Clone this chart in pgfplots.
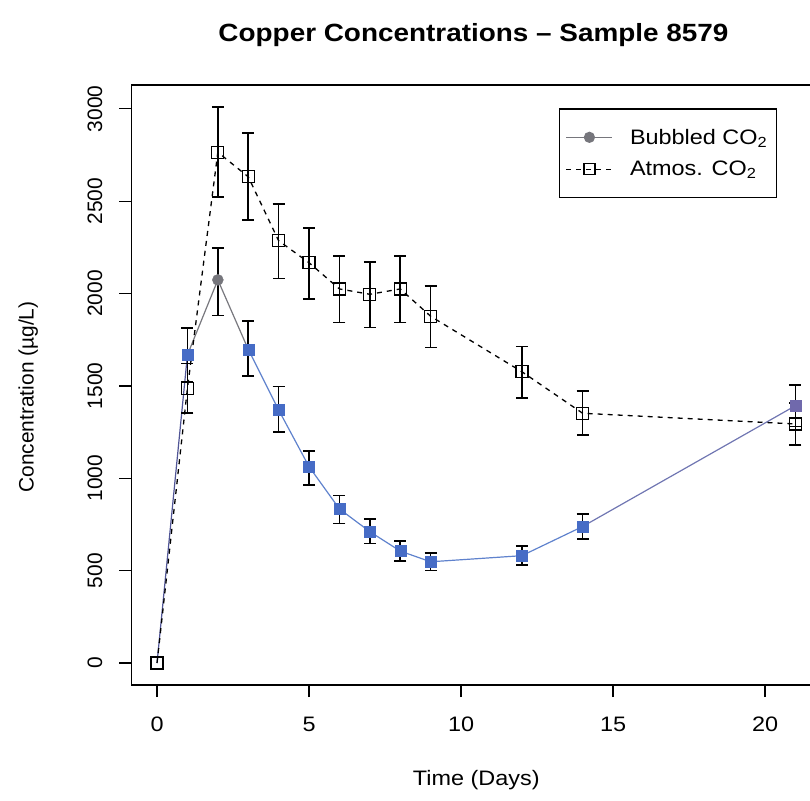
\documentclass[border=0pt]{standalone}
\usepackage{fontspec}
\setmainfont{Liberation Sans}[FakeStretch=1.12]
\newfontfamily\rotfont{Liberation Sans}
\usepackage{pgfplots}
\usepackage{pgfplotstable}
\pgfplotsset{compat=1.18}
\pgfplotsset{widelegend/.style={legend image code/.code={\draw[mark repeat=2,mark phase=2,#1] plot coordinates {(0bp,0bp) (23bp,0bp) (46bp,0bp)};}}}
\definecolor{bluemark}{RGB}{70,108,198}
\definecolor{blueline}{RGB}{95,130,205}
\definecolor{grayline}{RGB}{120,120,126}
\definecolor{graymark}{RGB}{118,118,124}
\definecolor{purpline}{RGB}{112,118,178}
\definecolor{purpmark}{RGB}{112,105,172}
\definecolor{darkseg}{RGB}{80,85,150}

\pgfplotstableread{
x y ep em
1 1668 144 148
2 2074 171 193
3 1698 155 144
4 1370 126 121
5 1063 86 99
6 834 72 78
7 711 67 63
8 606 54 54
9 548 49 48
12 581 54 51
14 739 68 68
21 1393 113 113
}\bub

\pgfplotstableread{
x y ep em
0 0 0 0
1 1487 135 135
2 2765 244 243
3 2632 237 235
4 2286 198 205
5 2167 187 197
6 2025 179 181
7 1996 175 179
8 2025 179 181
9 1877 164 168
12 1577 136 141
14 1352 122 118
21 1294 114 114
}\atm

\begin{document}
\begin{tikzpicture}
\begin{axis}[
  at={(131.5bp,116bp)}, anchor=south west, scale only axis,
  width=689.5bp, height=600bp,
  xmin=-0.84, xmax=21.84, ymin=-119, ymax=3129,
  xtick={0,5,10,15,20}, ytick={0,500,1000,1500,2000,2500,3000},
  xtick pos=bottom, ytick pos=left, tick align=outside,
  major tick length=12bp,
  every tick/.style={black, line width=1.2bp},
  axis line style={line width=1.2bp, black},
  /pgf/number format/1000 sep={},
  /pgf/number format/assume math mode=true,
  xticklabel style={font=\fontsize{21}{25}\selectfont, inner sep=0pt, anchor=north},
  yticklabel style={font=\rotfont\fontsize{21}{25}\selectfont, inner sep=0pt, rotate=90, anchor=south},
  xticklabel shift=20bp, yticklabel shift=17bp,
  title={Copper Concentrations – Sample 8579},
  title style={font=\bfseries\fontsize{25}{30}\selectfont, at={(axis description cs:0.496,1.062)}, anchor=base, inner sep=0pt},
  xlabel={Time (Days)},
  xlabel style={font=\fontsize{21}{25}\selectfont, at={(axis description cs:0.5,-0.1675)}, anchor=base, inner sep=0pt},
  ylabel={Concentration (µg/L)},
  ylabel style={font=\rotfont\fontsize{21}{25}\selectfont, at={(axis description cs:-0.142,0.48)}, anchor=base, inner sep=0pt},
  legend style={at={(axis description cs:0.936,0.961)}, anchor=north east, draw=black, line width=1.2bp,
    font=\fontsize{21}{25}\selectfont, inner xsep=6bp, inner ysep=17bp, row sep=9.5bp,
    nodes={inner sep=3bp}, /tikz/every odd column/.append style={column sep=14bp}},
  legend cell align=left,
  clip=false,
]
\addlegendimage{widelegend, color=graymark, line width=1.2bp, mark=*, mark size=5bp, mark options={fill=graymark, draw=graymark}}
\addlegendentry{Bubbled CO\textsubscript{2}}
\addlegendimage{widelegend, color=black, line width=1.2bp, dash pattern=on 5bp off 5bp, mark=square, mark size=5.5bp, mark options={solid, fill=white, draw=black}}
\addlegendentry{Atmos. CO\textsubscript{2}}

% Bubbled line segments
\addplot [forget plot, darkseg, line width=1.2bp] coordinates {(0,0) (1,1668)};
\addplot [forget plot, grayline, line width=1.2bp] coordinates {(1,1668) (2,2074) (3,1698)};
\addplot [forget plot, blueline, line width=1.2bp] coordinates {(3,1698) (4,1370) (5,1063) (6,834) (7,711) (8,606) (9,548) (12,581) (14,739)};
\addplot [forget plot, purpline, line width=1.2bp] coordinates {(14,739) (21,1393)};

% Atmos error bars
\addplot [forget plot, draw=none, no markers,
  error bars/.cd, y dir=both, y explicit,
  error bar style={draw=black, solid, line width=1.6bp},
  error mark options={rotate=90, mark size=6bp, line width=1.6bp, draw=black}]
  table [x=x, y=y, y error plus=ep, y error minus=em, skip coords between index={0}{1}] {\atm};
% Atmos line + squares
\addplot [forget plot, black, line width=1.3bp, dash pattern=on 5bp off 5bp,
  mark=square, mark size=6bp, mark options={solid, fill=white, draw=black, line width=1.3bp}]
  table [x=x, y=y] {\atm};

% Bubbled markers
\addplot [forget plot, only marks, mark=square*, mark size=5.5bp, mark options={fill=bluemark, draw=bluemark}]
  coordinates {(1,1668) (3,1698) (4,1370) (5,1063) (6,834) (7,711) (8,606) (9,548) (12,581) (14,739)};
\addplot [forget plot, only marks, mark=*, mark size=5.5bp, mark options={fill=graymark, draw=graymark}]
  coordinates {(2,2074)};
\addplot [forget plot, only marks, mark=square*, mark size=5.5bp, mark options={fill=purpmark, draw=purpmark}]
  coordinates {(21,1393)};

% Bubbled error bars
\addplot [forget plot, draw=none, no markers,
  error bars/.cd, y dir=both, y explicit,
  error bar style={draw=black, solid, line width=1.6bp},
  error mark options={rotate=90, mark size=6bp, line width=1.6bp, draw=black}]
  table [x=x, y=y, y error plus=ep, y error minus=em] {\bub};
\end{axis}
\pgfresetboundingbox
\path[use as bounding box] (0,0) rectangle (810bp,801bp);
\end{tikzpicture}
\end{document}
